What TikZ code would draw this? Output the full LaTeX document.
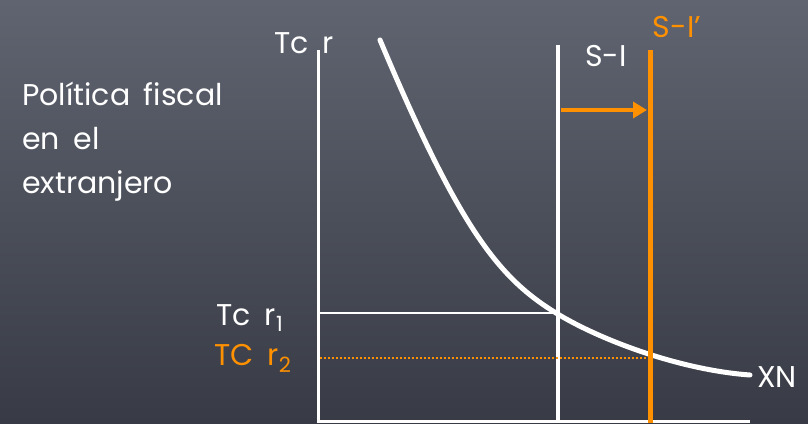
\documentclass[tikz,border=0pt]{standalone}
\usepackage{fontspec}
\setmainfont{Poppins}[WordSpace=1.7]
\usetikzlibrary{arrows.meta}
\definecolor{boardtop}{RGB}{95,100,112}
\definecolor{boardbot}{RGB}{56,59,69}
\definecolor{chalkorange}{RGB}{255,145,0}
\tikzset{
  lbl/.style={font=\fontsize{30}{44}\selectfont, text=white, inner sep=0pt},
  olbl/.style={lbl, text=chalkorange},
  axisline/.style={white, line width=3pt},
  schedule/.style={line width=4pt},
}
\begin{document}
\begin{tikzpicture}[x=1pt,y=-1pt]
\useasboundingbox (0,0) rectangle (808,423);
\shade[top color=boardtop, bottom color=boardbot] (0,0) rectangle (808,423);
% title
\node[lbl, anchor=west, align=left] (title) at (22,142) {Política fiscal\\en el\\extranjero};
% axes
\coordinate (otop) at (318,50);
\coordinate (origin) at (318,421);
\coordinate (xend) at (750,421);
\draw[axisline] (otop) -- (origin) -- (xend);
\node[lbl, anchor=south east] (ylab) at (334,54) {Tc r};
% XN curve
\coordinate (c0) at (380,40);
\coordinate (c1) at (556,313);
\coordinate (c2) at (750,375);
\draw[white, line width=5pt, line cap=round] (c0) .. controls (460,230) and (499,278) .. (c1)
  .. controls (600,340) and (680,370) .. (c2);
\node[lbl] (xn) at (777,377) {XN};
% S-I
\coordinate (sitop) at (558,45);
\coordinate (sibot) at (558,423);
\draw[white, schedule] (sitop) -- (sibot);
\node[lbl] (silab) at (606,56) {S-I};
% S-I'
\coordinate (s2top) at (650,50);
\coordinate (s2bot) at (650,423);
\draw[chalkorange, line width=5pt] (s2top) -- (s2bot);
\node[olbl] (s2lab) at (677,27) {S-I’};
% shift arrow
\coordinate (arrs) at (561,110);
\coordinate (arre) at (647,110);
\draw[chalkorange, line width=4pt, -{Triangle[length=14pt,width=16pt]}] (arrs) -- (arre);
% r1, r2
\coordinate (r1a) at (320,313);
\coordinate (r1b) at (556,313);
\draw[white, line width=1.5pt] (r1a) -- (r1b);
\node[lbl] (r1lab) at (250,318) {Tc r\textsubscript{1}};
\coordinate (r2a) at (320,358);
\coordinate (r2b) at (648,358);
\draw[chalkorange, line width=2pt, dash pattern=on 2pt off 2pt] (r2a) -- (r2b);
\node[olbl] (r2lab) at (253,358) {TC r\textsubscript{2}};
\end{tikzpicture}
\end{document}
